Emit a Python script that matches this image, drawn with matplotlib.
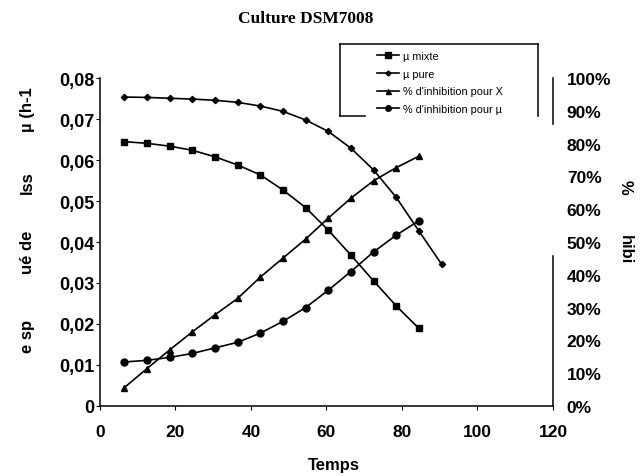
import numpy as np
import matplotlib
matplotlib.use('Agg')
import matplotlib.pyplot as plt
from matplotlib.ticker import FuncFormatter
from matplotlib.lines import Line2D

plt.rcParams['font.family'] = ['Liberation Sans', 'DejaVu Sans']

# temps (h)
temps = [6.5, 12.5, 18.5, 24.5, 30.5, 36.5, 42.5, 48.5, 54.5, 60.5, 66.5, 72.5, 78.5, 84.5]
temps_pure = temps + [90.5]

mu_mixte = [0.0645, 0.0641, 0.0634, 0.0624, 0.0608, 0.0588, 0.0564, 0.0527,
            0.0484, 0.0429, 0.0368, 0.0305, 0.0244, 0.0189]
mu_pure = [0.0754, 0.0753, 0.0751, 0.0749, 0.0746, 0.0741, 0.0732, 0.0719,
           0.0698, 0.0670, 0.0629, 0.0576, 0.0509, 0.0427, 0.0346]
inhib_x = [5.6, 11.4, 17.1, 22.6, 27.8, 32.8, 39.3, 45.1, 50.9, 57.3, 63.4, 68.7, 72.7, 76.2]
inhib_mu = [13.4, 13.9, 14.8, 16.0, 17.7, 19.4, 22.2, 25.8, 30.0, 35.3, 41.0, 47.0, 52.1, 56.5]

fig = plt.figure(figsize=(6.4, 4.77), dpi=100)
ax = fig.add_axes([0.156, 0.147, 0.708, 0.687])
ax2 = ax.twinx()

l1, = ax.plot(temps, mu_mixte, color='black', lw=1.2, marker='s', ms=5)
l2, = ax.plot(temps_pure, mu_pure, color='black', lw=1.2, marker='D', ms=3.2)
l3, = ax2.plot(temps, inhib_x, color='black', lw=1.2, marker='^', ms=4.5)
l4, = ax2.plot(temps, inhib_mu, color='black', lw=1.2, marker='o', ms=5)

ax.set_xlim(0, 120)
ax.set_ylim(0, 0.08)
ax2.set_ylim(0, 100)
ax.set_xticks(np.arange(0, 121, 20))
ax.set_yticks(np.arange(0, 0.081, 0.01))
ax2.set_yticks(np.arange(0, 101, 10))
ax.yaxis.set_major_formatter(FuncFormatter(lambda v, p: '0' if abs(v) < 1e-9 else f'{v:.2f}'.replace('.', ',')))
ax2.yaxis.set_major_formatter(FuncFormatter(lambda v, p: f'{v:.0f}%'))

for a in (ax, ax2):
    a.spines['top'].set_visible(False)
    a.spines['right'].set_visible(False)
ax2.spines['left'].set_visible(False)
ax2.spines['bottom'].set_visible(False)
for s in ('left', 'bottom'):
    ax.spines[s].set_linewidth(1.1)

ax.tick_params(axis='y', direction='out', length=3, pad=1, labelsize=13)
ax.tick_params(axis='x', direction='out', length=3, pad=10, labelsize=12.5)
ax2.tick_params(axis='y', which='major', length=0, pad=10, labelsize=12.5)
ax2.set_yticks([0, 90, 100], minor=True)
ax2.tick_params(axis='y', which='minor', direction='inout', length=7, width=1)
for lab in ax.get_xticklabels() + ax.get_yticklabels() + ax2.get_yticklabels():
    lab.set_fontweight('bold')

# right axis line, broken as in the scan
ax2.axvline(120, ymin=0, ymax=0.458, color='black', lw=1.1, clip_on=False)
ax2.axvline(120, ymin=0.86, ymax=1.0, color='black', lw=1.1, clip_on=False)

fig.text(0.478, 0.961, 'Culture DSM7008', family='Liberation Serif', weight='bold',
         fontsize=12.5, ha='center', va='center')
fig.text(0.522, 0.025, 'Temps', weight='bold', fontsize=12, ha='center', va='center')

# garbled axis titles as they appear in the scan
for txt, yy in [('µ (h-1', 110), ('lss', 183), ('ué de', 252), ('e sp', 336)]:
    fig.text(0.043, 1 - yy / 477, txt, rotation=90, weight='bold', fontsize=12,
             ha='center', va='center')
fig.text(0.977, 1 - 187 / 477, '%', rotation=270, weight='bold', fontsize=12,
         ha='center', va='center')
fig.text(0.977, 1 - 250 / 477, 'hibi', rotation=270, weight='bold', fontsize=12,
         ha='center', va='center')

labels = ['µ mixte', 'µ pure', "% d'inhibition pour X", "% d'inhibition pour µ"]
fig.legend([l1, l2, l3, l4], labels, loc='upper left', bbox_to_anchor=(0.581, 0.902),
           frameon=False, fontsize=7.8, handlelength=2.0, handletextpad=0.4,
           borderpad=0, labelspacing=0.7, numpoints=1, markerscale=0.8)

# legend frame (partly missing bottom edge)
box = dict(color='black', lw=1.1, transform=fig.transFigure)
fig.add_artist(Line2D([0.531, 0.531], [0.755, 0.906], **box))
fig.add_artist(Line2D([0.531, 0.841], [0.906, 0.906], **box))
fig.add_artist(Line2D([0.841, 0.841], [0.755, 0.906], **box))
fig.add_artist(Line2D([0.531, 0.570], [0.755, 0.755], **box))

fig.savefig('out.png', dpi=100)
